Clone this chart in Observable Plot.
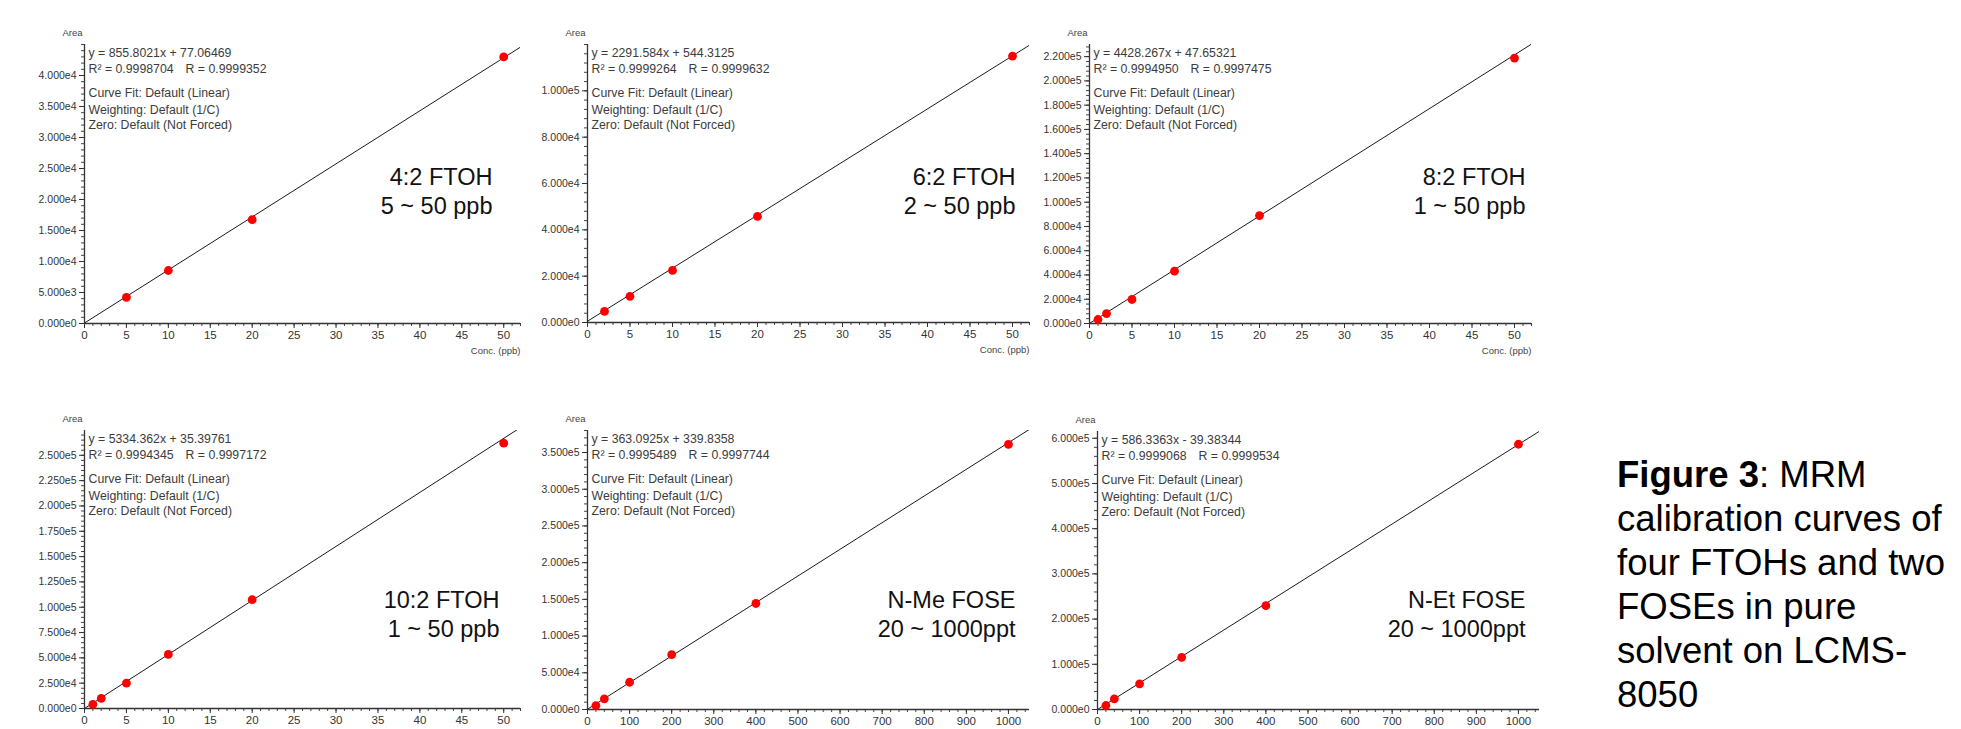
<!DOCTYPE html>
<html>
<head>
<meta charset="utf-8">
<script src="https://cdn.jsdelivr.net/npm/d3@7"></script>
<script src="https://cdn.jsdelivr.net/npm/@observablehq/plot@0.6"></script>
<style>
  html, body { margin: 0; padding: 0; background: #fff; }
  body { width: 1961px; height: 729px; overflow: hidden; position: relative; font-family: "Liberation Sans", Arial, sans-serif; }
  .panel { position: absolute; }
  .panel svg { overflow: visible; }
  .caption { position: absolute; left: 1617px; top: 453px; font-size: 36.5px; line-height: 44px; color: #000; font-family: "Liberation Sans", Arial, sans-serif; white-space: nowrap; }
</style>
</head>
<body>
<div id="root"></div>
<div class="caption"><b>Figure 3</b>: MRM<br>calibration curves of<br>four FTOHs and two<br>FOSEs in pure<br>solvent on LCMS-<br>8050</div>
<script>
// ---- Data ----
const compounds = ["4:2 FTOH", "6:2 FTOH", "8:2 FTOH", "10:2 FTOH", "N-Me FOSE", "N-Et FOSE"];
const rangeLabels = ["5 ~ 50 ppb", "2 ~ 50 ppb", "1 ~ 50 ppb", "1 ~ 50 ppb", "20 ~ 1000ppt", "20 ~ 1000ppt"];
const equations = ["y = 855.8021x + 77.06469", "y = 2291.584x + 544.3125", "y = 4428.267x + 47.65321",
                   "y = 5334.362x + 35.39761", "y = 363.0925x + 339.8358", "y = 586.3363x - 39.38344"];
const r2Values = ["0.9998704", "0.9999264", "0.9994950", "0.9994345", "0.9995489", "0.9999068"];
const rValues = ["0.9999352", "0.9999632", "0.9997475", "0.9997172", "0.9997744", "0.9999534"];
const fitInfo = ["Curve Fit: Default (Linear)", "Weighting: Default (1/C)", "Zero: Default (Not Forced)"];
const slopes = [855.8021, 2291.584, 4428.267, 5334.362, 363.0925, 586.3363];
const intercepts = [77.06469, 544.3125, 47.65321, 35.39761, 339.8358, -39.38344];

const conc42 = [5, 10, 20, 50];
const area42 = [4200, 8550, 16750, 43000];
const conc62 = [2, 5, 10, 20, 50];
const area62 = [4800, 11300, 22500, 45800, 115000];
const conc82 = [1, 2, 5, 10, 20, 50];
const area82 = [3300, 8200, 19800, 43100, 89000, 218800];
const conc102 = [1, 2, 5, 10, 20, 50];
const area102 = [4000, 10000, 25000, 53400, 107500, 262000];
const concNMe = [20, 40, 100, 200, 400, 1000];
const areaNMe = [5400, 14500, 37100, 74700, 144400, 361000];
const concNEt = [20, 40, 100, 200, 400, 1000];
const areaNEt = [8800, 23600, 56700, 115500, 229700, 586800];

const xMaxes = [52, 52, 52, 52, 1050, 1050];
const yMaxes = [45000, 120000, 230000, 274500, 380000, 615000];
const yLabelSteps = [5000, 20000, 20000, 25000, 50000, 100000];
const yMinorSteps = [1000, 4000, 4000, 5000, 10000, 20000];
const xLabelSteps = [5, 5, 5, 5, 100, 100];
const xMinorSteps = [1, 1, 1, 1, 20, 20];
const xAxisTitles = ["Conc. (ppb)", "Conc. (ppb)", "Conc. (ppb)", null, null, null];

const concs = [conc42, conc62, conc82, conc102, concNMe, concNEt];
const areas = [area42, area62, area82, area102, areaNMe, areaNEt];

// ---- Layout (frame positions in page pixels) ----
const frames = [
  {x0: 84,  x1: 520,  yT: 44, yB: 323, bigDx: -28, bigDy: 133},
  {x0: 587, x1: 1029, yT: 44, yB: 322, bigDx: -14, bigDy: 133},
  {x0: 1089, x1: 1531, yT: 44, yB: 323, bigDx: -6, bigDy: 133},
  {x0: 84,  x1: 520,  yT: 430, yB: 708, bigDx: -21, bigDy: 170},
  {x0: 587, x1: 1029, yT: 430, yB: 709, bigDx: -14, bigDy: 170},
  {x0: 1097, x1: 1539, yT: 431, yB: 709, bigDx: -14, bigDy: 169}
];
const ML = 70, MR = 45, MT = 30, MB = 42;

const fmtE = v => v.toExponential(3).replace("+", "");
const tickFont = "'Liberation Sans Narrow', 'Liberation Sans', Arial, sans-serif";
const textFont = "'Liberation Sans', Arial, sans-serif";

const root = document.getElementById("root");

const note = (txt, dx, dy) => Plot.text([txt], {frameAnchor: "top-left", dx, dy, textAnchor: "start",
  lineAnchor: "middle", fontSize: 12.3, fill: "#3c3c3c", fontFamily: textFont});

compounds.forEach((name, i) => {
  const f = frames[i];
  const xMax = xMaxes[i], yMax = yMaxes[i];
  const pts = concs[i].map((c, j) => ({c, a: areas[i][j]}));
  const fit = [
    {c: 0, a: intercepts[i]},
    {c: xMax, a: slopes[i] * xMax + intercepts[i]}
  ];
  // labelled ticks stop below the top of the axis
  const yMajor = d3.range(0, yMax * 0.995, yLabelSteps[i]);
  const yMinor = d3.range(0, yMax + 1, yMinorSteps[i]);
  const xMajor = d3.range(0, xMax + 1e-9, xLabelSteps[i]);
  const xMinor = d3.range(0, xMax + 1e-9, xMinorSteps[i]);

  const width = (f.x1 - f.x0) + ML + MR;
  const height = (f.yB - f.yT) + MT + MB;

  const marks = [
    // minor ticks
    Plot.axisY(yMinor, {tickSize: 3, tickFormat: () => "", stroke: "#444", label: null}),
    Plot.axisX(xMinor, {tickSize: 3, tickFormat: () => "", stroke: "#444", label: null}),
    // major ticks + labels
    Plot.axisY(yMajor, {tickSize: 5, tickPadding: 3, tickFormat: fmtE, stroke: "#333", fill: "#333",
      fontSize: 10.5, fontFamily: tickFont, label: null}),
    Plot.axisX(xMajor, {tickSize: 5, tickPadding: 2, tickFormat: d => String(d), stroke: "#333", fill: "#333",
      fontSize: 11.5, fontFamily: tickFont, label: null}),
    // axis lines
    Plot.ruleX([0], {stroke: "#333", strokeWidth: 1.3}),
    Plot.ruleY([0], {stroke: "#333", strokeWidth: 1.3}),
    // "Area" title
    Plot.text(["Area"], {frameAnchor: "top-left", dx: -12, dy: -12, textAnchor: "middle", lineAnchor: "middle",
      fontSize: 9.5, fill: "#444", fontFamily: textFont}),
    // fit line
    Plot.line(fit, {x: "c", y: "a", stroke: "#1a1a1a", strokeWidth: 1, clip: true}),
    // points
    Plot.dot(pts, {x: "c", y: "a", r: 4.4, fill: "#ff0000", stroke: "none"}),
    // equation block
    note(equations[i], 4, 9),
    note("R\u00B2 = " + r2Values[i], 4, 25),
    note("R = " + rValues[i], 101, 25),
    note(fitInfo[0], 4, 49),
    note(fitInfo[1], 4, 65.5),
    note(fitInfo[2], 4, 81),
    // compound label
    Plot.text([name], {frameAnchor: "top-right", dx: f.bigDx, dy: f.bigDy, textAnchor: "end", lineAnchor: "middle",
      fontSize: 23.5, fill: "#111", fontFamily: textFont}),
    Plot.text([rangeLabels[i]], {frameAnchor: "top-right", dx: f.bigDx, dy: f.bigDy + 28.5, textAnchor: "end",
      lineAnchor: "middle", fontSize: 23.5, fill: "#111", fontFamily: textFont})
  ];
  if (xAxisTitles[i]) {
    marks.push(Plot.text([xAxisTitles[i]], {frameAnchor: "bottom-right", dy: 27, textAnchor: "end",
      lineAnchor: "middle", fontSize: 9.5, fill: "#444", fontFamily: textFont}));
  }

  const chart = Plot.plot({
    width, height,
    marginLeft: ML, marginRight: MR, marginTop: MT, marginBottom: MB,
    x: {domain: [0, xMax], label: null},
    y: {domain: [0, yMax], label: null},
    style: {background: "transparent", overflow: "visible", fontFamily: textFont},
    marks
  });
  const div = document.createElement("div");
  div.className = "panel";
  div.style.left = (f.x0 - ML) + "px";
  div.style.top = (f.yT - MT) + "px";
  div.appendChild(chart);
  root.appendChild(div);
});
</script>
</body>
</html>
